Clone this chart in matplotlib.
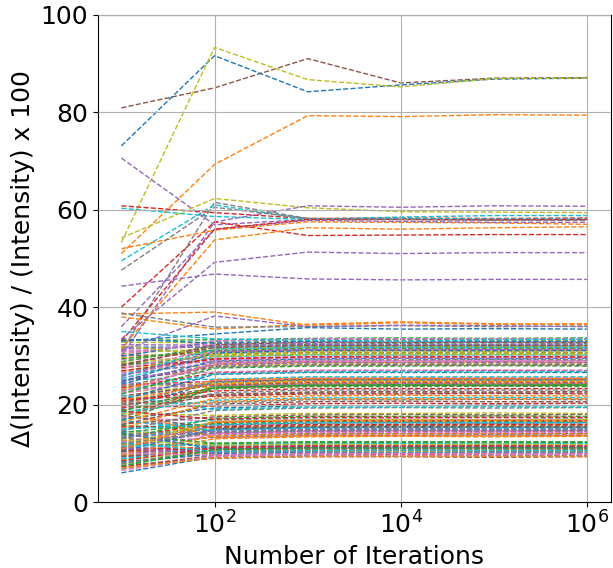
import numpy as np
import matplotlib
matplotlib.use("Agg")
import matplotlib.pyplot as plt
from matplotlib.ticker import NullLocator

# liczba iteracji
iterations = [10, 100, 1000, 10000, 100000, 1000000]

# linie odstajace (wysokie wartosci)
outliers = [
    [80.9, 85.0, 91.0, 86.0, 87.0, 87.1],
    [73.1, 91.6, 84.2, 85.6, 86.8, 87.0],
    [53.3, 93.3, 86.7, 85.2, 86.9, 87.0],
    [51.0, 69.3, 79.3, 79.1, 79.5, 79.4],
    [70.6, 56.9, 58.0, 58.1, 58.0, 58.0],
    [60.8, 59.4, 58.2, 58.3, 58.2, 58.3],
    [60.3, 58.6, 58.0, 58.2, 58.1, 58.1],
    [54.2, 62.3, 60.4, 59.6, 59.5, 59.4],
    [30.0, 57.5, 60.8, 60.5, 60.8, 60.7],
    [31.0, 61.5, 58.2, 58.0, 58.0, 58.0],
    [49.5, 61.0, 58.0, 58.5, 58.8, 58.8],
    [40.0, 57.5, 54.7, 54.8, 54.9, 54.9],
    [52.0, 55.8, 57.5, 57.4, 57.3, 57.0],
    [31.5, 53.8, 56.3, 56.0, 56.3, 56.5],
    [36.0, 56.0, 57.8, 57.6, 57.4, 57.4],
    [33.0, 56.0, 58.0, 58.0, 57.9, 58.0],
    [47.6, 60.5, 58.2, 58.0, 57.8, 57.8],
    [33.5, 49.2, 51.3, 51.0, 51.2, 51.2],
    [44.3, 46.8, 45.8, 45.6, 45.7, 45.7],
    [38.6, 39.0, 36.3, 36.8, 36.5, 36.6],
    [38.0, 35.5, 36.5, 37.0, 36.6, 36.4],
    [38.8, 35.9, 36.0, 36.2, 36.0, 36.1],
    [31.0, 38.2, 36.0, 36.3, 36.2, 36.0],
    [33.0, 34.5, 35.8, 35.5, 35.6, 35.5],
    [35.0, 33.5, 33.2, 33.0, 33.3, 33.4],
]
outlier_colors = [
    "tab:brown", "tab:blue", "tab:olive", "tab:orange", "tab:purple",
    "tab:red", "tab:cyan", "tab:olive", "tab:purple", "tab:gray",
    "tab:cyan", "tab:red", "tab:orange", "tab:orange", "tab:purple",
    "tab:red", "tab:gray", "tab:purple", "tab:purple", "tab:orange",
    "tab:orange", "tab:gray", "tab:purple", "tab:blue", "tab:cyan",
]

# glowne pasmo
band_low = [
    [6.0, 9.3, 9.5, 9.4, 9.5, 9.5],
    [7.2, 9.6, 9.8, 9.7, 9.8, 9.8],
    [8.1, 9.8, 10.1, 10.0, 10.1, 10.0],
    [9.0, 10.0, 10.3, 10.3, 10.2, 10.3],
    [7.8, 10.2, 10.4, 10.5, 10.4, 10.5],
    [10.4, 10.3, 10.6, 10.6, 10.7, 10.6],
    [8.6, 10.5, 10.8, 10.8, 10.9, 10.8],
    [9.6, 10.7, 11.0, 11.1, 11.0, 11.0],
    [11.2, 10.8, 11.2, 11.2, 11.3, 11.2],
    [6.8, 9.6, 9.9, 10.0, 9.9, 9.9],
    [9.3, 11.0, 11.4, 11.4, 11.5, 11.4],
    [10.8, 11.3, 11.6, 11.7, 11.6, 11.7],
    [12.0, 11.5, 11.8, 11.9, 11.9, 11.9],
    [8.9, 11.6, 12.0, 12.1, 12.0, 12.1],
    [11.7, 12.0, 12.2, 12.3, 12.3, 12.2],
    [7.5, 9.0, 9.3, 9.3, 9.2, 9.3],
    [10.1, 10.1, 10.4, 10.4, 10.4, 10.4],
    [12.5, 10.6, 10.9, 10.9, 11.0, 11.0],
    [9.9, 11.1, 11.3, 11.3, 11.3, 11.3],
    [13.2, 11.4, 11.7, 11.6, 11.7, 11.6],
    [8.3, 9.9, 10.2, 10.1, 10.2, 10.2],
    [10.6, 10.9, 11.1, 11.0, 11.1, 11.1],
    [6.5, 9.4, 9.7, 9.6, 9.7, 9.7],
    [11.5, 11.8, 12.1, 12.0, 12.1, 12.0],
    [13.8, 12.1, 12.4, 12.4, 12.4, 12.4],
    [9.4, 10.4, 10.7, 10.7, 10.6, 10.7],
    [12.8, 11.7, 11.9, 11.8, 11.9, 11.8],
    [7.0, 9.1, 9.4, 9.4, 9.4, 9.4],
    [11.0, 10.2, 10.5, 10.6, 10.5, 10.6],
    [8.0, 10.6, 10.9, 11.0, 10.9, 10.9],
    [14.2, 10.9, 11.2, 11.3, 11.2, 11.3],
    [8.5, 11.2, 11.5, 11.5, 11.5, 11.5],
    [10.0, 9.7, 10.0, 10.0, 10.0, 10.0],
    [12.2, 10.4, 10.6, 10.7, 10.6, 10.6],
    [7.4, 10.8, 11.1, 11.1, 11.1, 11.1],
]

band_mid = [
    [9.5, 13.0, 13.4, 13.5, 13.4, 13.5],
    [11.8, 13.3, 13.7, 13.7, 13.8, 13.7],
    [10.2, 13.5, 13.9, 14.0, 13.9, 14.0],
    [14.5, 13.8, 14.1, 14.2, 14.2, 14.1],
    [12.6, 14.0, 14.4, 14.4, 14.5, 14.4],
    [8.8, 14.1, 14.6, 14.7, 14.6, 14.7],
    [13.5, 14.4, 14.8, 14.9, 14.9, 14.8],
    [15.8, 14.6, 15.0, 15.1, 15.0, 15.1],
    [11.1, 14.8, 15.3, 15.3, 15.4, 15.3],
    [14.0, 15.1, 15.5, 15.6, 15.5, 15.5],
    [12.2, 15.3, 15.7, 15.8, 15.8, 15.8],
    [16.5, 15.6, 16.0, 16.0, 16.1, 16.0],
    [10.7, 15.8, 16.2, 16.3, 16.2, 16.3],
    [15.2, 16.0, 16.5, 16.5, 16.6, 16.5],
    [13.1, 16.3, 16.8, 16.8, 16.8, 16.8],
    [17.3, 16.6, 17.0, 17.1, 17.0, 17.1],
    [14.8, 16.9, 17.3, 17.4, 17.4, 17.3],
    [12.9, 17.2, 17.6, 17.6, 17.7, 17.6],
    [16.0, 17.5, 17.9, 18.0, 17.9, 18.0],
    [18.2, 17.8, 18.2, 18.2, 18.3, 18.2],
    [9.8, 13.6, 14.0, 14.0, 14.1, 14.0],
    [11.4, 14.2, 14.5, 14.6, 14.5, 14.6],
    [13.8, 14.9, 15.2, 15.2, 15.2, 15.2],
    [10.4, 15.0, 15.4, 15.5, 15.4, 15.4],
    [15.5, 15.4, 15.9, 15.9, 15.9, 15.9],
    [12.4, 13.9, 14.3, 14.3, 14.3, 14.3],
    [16.8, 14.7, 15.1, 15.0, 15.1, 15.0],
    [14.3, 16.1, 16.4, 16.4, 16.4, 16.4],
    [17.8, 15.2, 15.6, 15.7, 15.6, 15.6],
    [11.6, 16.6, 16.9, 17.0, 16.9, 17.0],
    [19.0, 13.2, 13.6, 13.6, 13.6, 13.6],
    [13.3, 14.5, 14.9, 15.0, 14.9, 14.9],
    [14.6, 18.8, 19.3, 19.4, 19.3, 19.4],
    [17.0, 19.3, 19.8, 19.8, 19.9, 19.8],
    [19.5, 19.7, 20.2, 20.3, 20.2, 20.3],
    [15.9, 20.1, 20.6, 20.7, 20.6, 20.6],
    [20.3, 20.4, 21.0, 21.0, 21.1, 21.0],
    [18.4, 20.9, 21.4, 21.4, 21.5, 21.4],
    [16.4, 21.3, 21.8, 21.9, 21.8, 21.8],
    [21.2, 21.7, 22.2, 22.2, 22.3, 22.2],
    [19.9, 22.1, 22.6, 22.7, 22.6, 22.7],
    [17.6, 22.4, 23.0, 23.0, 23.0, 23.0],
    [22.0, 19.0, 19.5, 19.5, 19.6, 19.5],
    [15.1, 20.6, 21.2, 21.2, 21.2, 21.2],
    [20.8, 22.8, 23.3, 23.3, 23.3, 23.3],
    [18.9, 21.9, 22.4, 22.4, 22.4, 22.4],
    [12.0, 14.3, 14.7, 14.7, 14.7, 14.7],
    [15.0, 15.9, 16.3, 16.3, 16.3, 16.3],
    [10.9, 16.4, 16.7, 16.6, 16.7, 16.6],
    [18.7, 17.0, 17.4, 17.4, 17.4, 17.4],
]

band_high = [
    [18.0, 23.2, 23.7, 23.7, 23.8, 23.7],
    [20.5, 23.4, 23.9, 24.0, 23.9, 24.0],
    [22.6, 23.7, 24.1, 24.2, 24.2, 24.1],
    [17.3, 23.9, 24.3, 24.4, 24.3, 24.4],
    [23.1, 24.1, 24.6, 24.6, 24.7, 24.6],
    [21.4, 24.3, 24.8, 24.8, 24.8, 24.8],
    [19.2, 24.6, 25.0, 25.1, 25.0, 25.1],
    [24.0, 24.8, 25.2, 25.3, 25.3, 25.2],
    [22.3, 25.0, 25.5, 25.5, 25.5, 25.5],
    [25.2, 25.2, 25.7, 25.7, 25.7, 25.7],
    [16.7, 23.5, 24.0, 24.0, 24.0, 24.0],
    [21.8, 24.0, 24.5, 24.5, 24.5, 24.5],
    [23.6, 24.4, 24.9, 24.9, 24.9, 24.9],
    [19.6, 25.1, 25.4, 25.4, 25.4, 25.4],
    [24.5, 23.8, 24.2, 24.3, 24.2, 24.3],
    [20.1, 24.7, 25.1, 25.1, 25.1, 25.1],
    [21.0, 26.2, 26.6, 26.6, 26.6, 26.6],
    [23.4, 26.5, 26.9, 26.9, 27.0, 26.9],
    [25.6, 26.7, 27.1, 27.1, 27.1, 27.1],
    [22.8, 26.3, 26.7, 26.8, 26.7, 26.8],
    [22.2, 27.5, 27.9, 27.9, 28.0, 27.9],
    [24.8, 27.8, 28.2, 28.2, 28.2, 28.2],
    [27.0, 28.0, 28.4, 28.5, 28.4, 28.5],
    [23.0, 28.3, 28.7, 28.7, 28.8, 28.7],
    [26.2, 28.5, 28.9, 29.0, 28.9, 29.0],
    [28.4, 28.8, 29.2, 29.2, 29.3, 29.2],
    [24.2, 29.0, 29.4, 29.5, 29.4, 29.5],
    [27.6, 29.3, 29.7, 29.7, 29.7, 29.7],
    [29.2, 29.5, 29.9, 30.0, 29.9, 30.0],
    [25.4, 29.8, 30.2, 30.2, 30.2, 30.2],
    [28.0, 30.0, 30.4, 30.5, 30.4, 30.5],
    [30.1, 30.3, 30.7, 30.7, 30.8, 30.7],
    [26.8, 30.5, 30.9, 31.0, 30.9, 31.0],
    [29.6, 30.8, 31.2, 31.2, 31.3, 31.2],
    [31.0, 31.0, 31.4, 31.5, 31.4, 31.5],
    [27.3, 31.3, 31.7, 31.7, 31.7, 31.7],
    [30.5, 31.5, 31.9, 32.0, 31.9, 32.0],
    [31.8, 31.8, 32.2, 32.2, 32.2, 32.2],
    [28.8, 32.0, 32.4, 32.5, 32.4, 32.5],
    [32.3, 32.2, 32.6, 32.7, 32.7, 32.6],
    [30.8, 32.5, 32.9, 32.9, 32.9, 32.9],
    [32.8, 32.7, 33.1, 33.2, 33.1, 33.2],
    [29.9, 33.0, 33.4, 33.4, 33.4, 33.4],
    [33.2, 33.3, 33.6, 33.7, 33.6, 33.7],
    [25.0, 28.1, 28.6, 28.6, 28.6, 28.6],
    [26.5, 29.1, 29.6, 29.6, 29.6, 29.6],
    [28.6, 29.9, 30.3, 30.3, 30.3, 30.3],
    [24.6, 30.6, 31.1, 31.1, 31.1, 31.1],
    [29.4, 31.1, 31.6, 31.6, 31.6, 31.6],
    [31.4, 31.9, 32.3, 32.3, 32.3, 32.3],
    [27.9, 32.3, 32.8, 32.8, 32.8, 32.8],
    [30.3, 33.1, 33.5, 33.5, 33.5, 33.5],
    [23.7, 27.7, 28.1, 28.1, 28.1, 28.1],
    [32.0, 30.2, 30.6, 30.6, 30.6, 30.6],
    [26.0, 31.4, 31.8, 31.8, 31.8, 31.8],
    [33.5, 32.6, 33.0, 33.0, 33.0, 33.0],
    [20.9, 24.2, 24.7, 24.7, 24.7, 24.7],
    [18.6, 23.6, 24.0, 24.1, 24.0, 24.1],
    [26.9, 29.4, 29.8, 29.8, 29.8, 29.8],
    [25.8, 30.9, 31.3, 31.3, 31.3, 31.3],
    [28.2, 31.7, 32.1, 32.1, 32.1, 32.1],
    [22.5, 28.6, 29.0, 29.0, 29.0, 29.0],
]

fig = plt.figure(figsize=(6.13, 5.68), dpi=100)
ax = fig.add_axes([0.160, 0.116, 0.836, 0.858])

# przeplatanie pasm, zeby kolory byly wymieszane
band = []
for i in range(max(len(band_low), len(band_mid), len(band_high))):
    for grp in (band_low, band_mid, band_high):
        if i < len(grp):
            band.append(grp[i])

for row in band:
    ax.plot(iterations, row, linestyle='--', linewidth=1)

for row, c in zip(outliers, outlier_colors):
    ax.plot(iterations, row, linestyle='--', linewidth=1, color=c)

ax.set_xscale('log')
ax.set_ylim(0, 100)
ax.set_xticks([1e2, 1e4, 1e6])
ax.xaxis.set_minor_locator(NullLocator())
ax.tick_params(labelsize=18)
ax.set_xlabel('Number of Iterations', fontsize=18)
ax.set_ylabel('Δ(Intensity) / (Intensity) x 100', fontsize=18)
ax.set_axisbelow(False)
ax.grid(True)

fig.savefig('out.png', dpi=100)
